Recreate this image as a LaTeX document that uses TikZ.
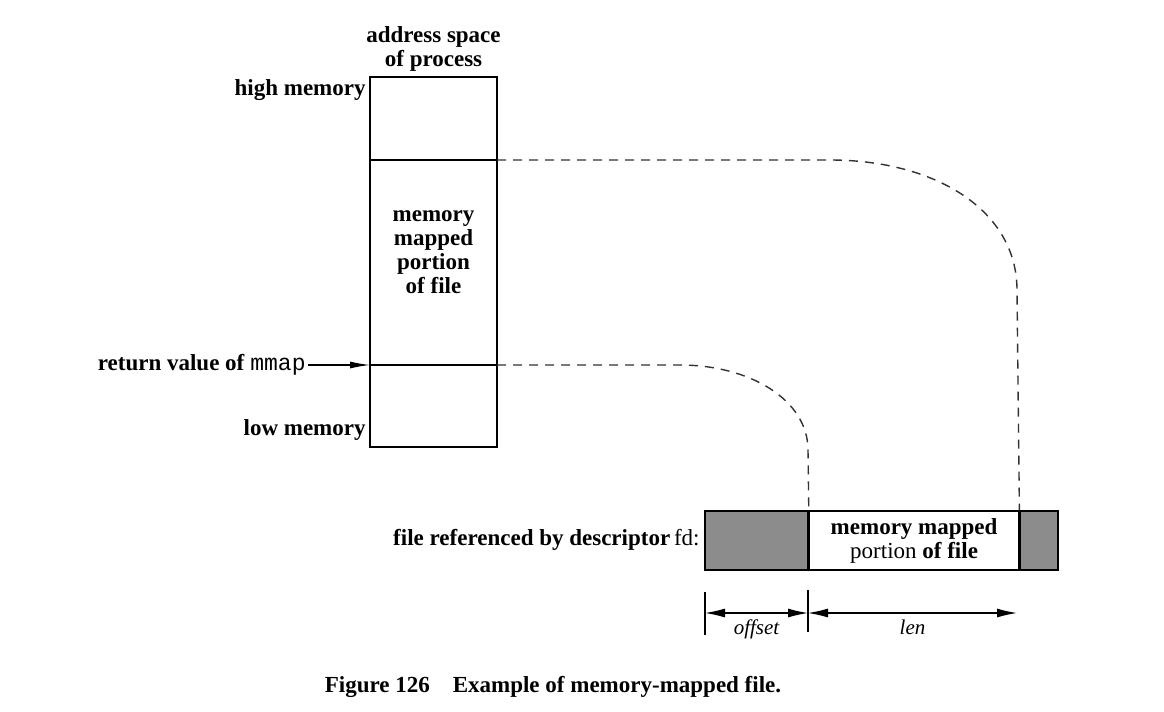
\documentclass[tikz,border=0pt]{standalone}
\usepackage{fontspec}
\setmainfont{Liberation Serif}
\setmonofont{Liberation Mono}
\usetikzlibrary{arrows.meta,positioning}

\tikzset{
  lbl/.style={font=\bfseries\fontsize{11.5}{12}\selectfont, inner sep=1pt},
  dimlbl/.style={font=\itshape\fontsize{10.5}{12}\selectfont, inner sep=1pt},
  seg/.style={draw=black, inner sep=0pt, minimum height=29.5pt, line width=0.8pt},
  maplink/.style={draw=black!80, line width=0.7pt, dash pattern=on 4.5pt off 3.5pt},
  dimarrow/.style={{Latex[length=10pt,width=4.5pt]}-{Latex[length=10pt,width=4.5pt]}, line width=0.6pt}
}

\begin{document}
\begin{tikzpicture}[x=0.5pt,y=-0.5pt]
\useasboundingbox (0,0) rectangle (1164,712);
%address space box
\node[draw, line width=0.6pt, minimum width=63.5pt, minimum height=185pt, inner sep=0pt] (proc) at (433.5,262) {};
\node[lbl, align=center] (title) at (433.5,49) {address space\\of process};
\coordinate (hiL) at (370,160);
\coordinate (hiR) at (497,160);
\coordinate (retL) at (370,365);
\coordinate (retR) at (497,365);
\draw[line width=0.6pt] (hiL) -- (hiR);
\draw[line width=0.6pt] (retL) -- (retR);
\node[lbl, align=center] (maptext) at (433.5,252) {memory\\mapped\\portion\\of file};
\node[lbl, anchor=east] (high) at (368,90) {high memory};
\node[lbl, anchor=east] (low) at (368,430) {low memory};
\node[lbl, anchor=east] (ret) at (308,365) {return value of \mdseries\texttt{mmap}};
\draw[-{Latex[length=10pt,width=3.5pt]}, line width=0.6pt] (ret.east) -- (retL);
%file
\node[seg, fill=black!45, minimum width=51.5pt] (offbox) at (756.5,540.5) {};
\node[seg, minimum width=104.5pt, right=0pt of offbox, lbl, align=center] (mapbox) {memory mapped\\\mdseries portion \bfseries of file};
\node[seg, fill=black!45, minimum width=19pt, right=0pt of mapbox] (tailbox) {};
\node[lbl, anchor=east] (fdlbl) at (702,540) {file referenced by descriptor\,\mdseries fd:};
%mapping lines
\draw[maplink] (hiR) -- (830,160) .. controls (935,160) and (1017,210) .. (1017,290) -- (mapbox.north east);
\draw[maplink] (retR) -- (680,365) .. controls (750,365) and (808,400) .. (808,450) -- (mapbox.north west);
%offset and len
\coordinate (offA) at (705,613);
\coordinate (offB) at (808,613);
\coordinate (lenB) at (1017,613);
\draw[line width=0.6pt] (705,592) -- (705,635);
\draw[line width=0.6pt] (808,590) -- (808,632);
\draw[dimarrow] (offA) -- (offB) node[dimlbl, midway, below=2pt] (offlbl) {offset};
\draw[dimarrow] (offB) -- (lenB) node[dimlbl, midway, below=2pt] (lenlbl) {len};
%caption
\node[lbl] (caption) at (553,687) {Figure 126\quad Example of memory-mapped file.};
\end{tikzpicture}
\end{document}
